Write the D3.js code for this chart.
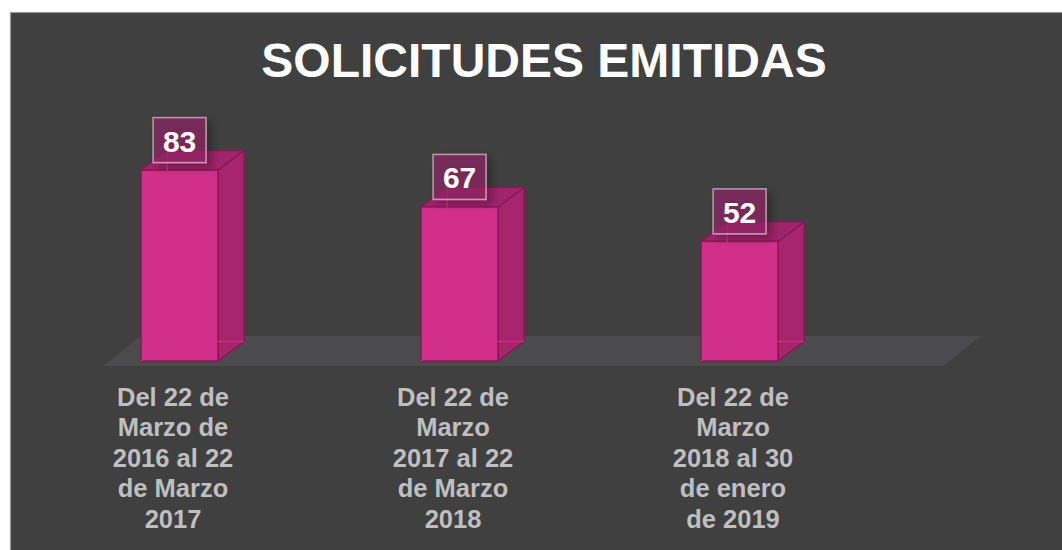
<!DOCTYPE html>
<html>
<head>
<meta charset="utf-8">
<script src="https://cdn.jsdelivr.net/npm/d3@7"></script>
<style>
  html, body { margin: 0; padding: 0; background: #ffffff; }
  svg { display: block; }
</style>
</head>
<body>
<svg id="chart" width="1062" height="550"></svg>
<script>
// ---- data ----
const title = "SOLICITUDES EMITIDAS";
const categories = [
  "Del 22 de Marzo de 2016 al 22 de Marzo 2017",
  "Del 22 de Marzo 2017 al 22 de Marzo 2018",
  "Del 22 de Marzo 2018 al 30 de enero de 2019"
];
const categoryLines = [
  ["Del 22 de", "Marzo de", "2016 al 22", "de Marzo", "2017"],
  ["Del 22 de", "Marzo", "2017 al 22", "de Marzo", "2018"],
  ["Del 22 de", "Marzo", "2018 al 30", "de enero", "de 2019"]
];
const values = [83, 67, 52];

// ---- layout ----
const W = 1062, H = 550;
const svg = d3.select("#chart");
const font = "'Liberation Sans', Arial, Helvetica, sans-serif";

const defs = svg.append("defs");
const sh = defs.append("filter").attr("id", "shadow")
  .attr("x", "-50%").attr("y", "-50%").attr("width", "200%").attr("height", "200%");
sh.append("feDropShadow").attr("dx", 5).attr("dy", 4).attr("stdDeviation", 4)
  .attr("flood-color", "#000").attr("flood-opacity", 0.45);

// background panel
svg.append("rect").attr("x", 10.5).attr("y", 12.5).attr("width", W).attr("height", H)
  .attr("fill", "#404040").attr("stroke", "#999999").attr("stroke-width", 1.2);

const x = d3.scaleBand().domain(categories).range([103, 943]).padding(0);
const y = d3.scaleLinear().domain([0, 100]).range([361, 131]);
const bw = x.bandwidth();

// floor (3D)
const floorDx = 38, floorDy = -30;
const fy = 366;
svg.append("path")
  .attr("d", `M${x.range()[0]},${fy} L${x.range()[1]},${fy} L${x.range()[1] + floorDx},${fy + floorDy} L${x.range()[0] + floorDx},${fy + floorDy} Z`)
  .attr("fill", "#4b4b4d");

// bars
const dx = 26, dy = -19.5;
const barOff = bw * 0.136, barW = bw * 0.275;
const edge = "#8a1656";
const g = svg.append("g");
categories.forEach((c, i) => {
  const x0 = x(c) + barOff, x1 = x0 + barW;
  const yt = y(values[i]), yb = y(0);
  const bar = g.append("g");
  // side face
  bar.append("path")
    .attr("d", `M${x1},${yb} L${x1 + dx},${yb + dy} L${x1 + dx},${yt + dy} L${x1},${yt} Z`)
    .attr("fill", "#a6266b").attr("stroke", edge).attr("stroke-width", 1.3).attr("stroke-linejoin", "round");
  // top face
  bar.append("path")
    .attr("d", `M${x0},${yt} L${x1},${yt} L${x1 + dx},${yt + dy} L${x0 + dx},${yt + dy} Z`)
    .attr("fill", "#a0246a").attr("stroke", edge).attr("stroke-width", 1.3).attr("stroke-linejoin", "round");
  // front face
  bar.append("rect")
    .attr("x", x0).attr("y", yt).attr("width", barW).attr("height", yb - yt)
    .attr("fill", "#d0308a").attr("stroke", edge).attr("stroke-width", 1.5);
  // hidden (see-through) edges
  bar.append("path")
    .attr("d", `M${x0 + dx},${yt + dy} L${x0 + dx},${yb + dy} L${x1 + dx},${yb + dy} M${x0},${yb} L${x0 + dx},${yb + dy}`)
    .attr("fill", "none").attr("stroke", "#d82c8c").attr("stroke-width", 1.2);
});

// value labels
categories.forEach((c, i) => {
  const cx = x(c) + barOff + barW / 2;
  const bottom = y(values[i]) - 7.5;
  const bwid = 53, bh = 45;
  svg.append("rect")
    .attr("x", cx - bwid / 2).attr("y", bottom - bh).attr("width", bwid).attr("height", bh)
    .attr("fill", "rgba(150,40,105,0.62)").attr("stroke", "rgba(235,205,225,0.65)").attr("stroke-width", 1.5)
    .attr("filter", "url(#shadow)");
  svg.append("text")
    .attr("x", cx).attr("y", bottom - 11)
    .attr("text-anchor", "middle")
    .attr("font-family", font).attr("font-weight", "bold").attr("font-size", 30)
    .attr("fill", "#ffffff")
    .text(values[i]);
});

// category labels
categories.forEach((c, i) => {
  const t = svg.append("text")
    .attr("text-anchor", "middle")
    .attr("font-family", font).attr("font-weight", "bold").attr("font-size", 25.5)
    .attr("fill", "#bfbfbf");
  categoryLines[i].forEach((line, k) => {
    t.append("tspan").attr("x", x(c) + bw * 0.25).attr("y", 406 + k * 30.4).text(line);
  });
});

// title
svg.append("text")
  .attr("x", 544).attr("y", 77)
  .attr("text-anchor", "middle")
  .attr("font-family", font).attr("font-weight", "bold").attr("font-size", 48)
  .attr("fill", "#ffffff")
  .text(title);
</script>
</body>
</html>
